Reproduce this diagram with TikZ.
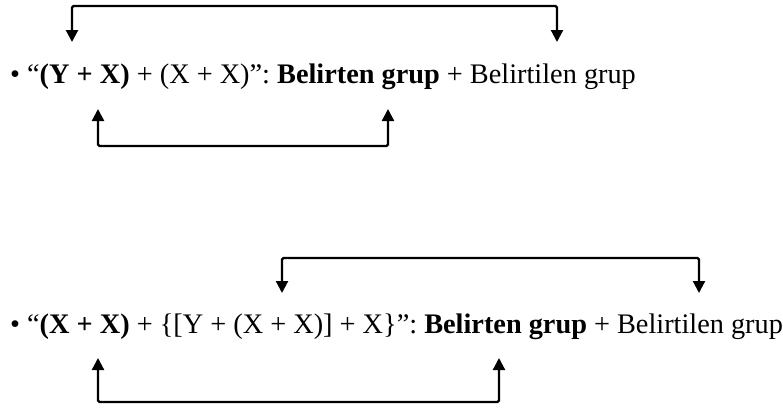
\documentclass[tikz,border=0pt]{standalone}
\usepackage{fontspec}
\setmainfont{Liberation Serif}
\usetikzlibrary{arrows.meta}

\begin{document}
\begin{tikzpicture}[x=1pt, y=-1pt,
        phrase/.style={anchor=base west, inner sep=0pt, font=\fontsize{28.3}{34}\selectfont},
        link/.style={{Triangle[width=12pt,length=12pt]}-{Triangle[width=12pt,length=12pt]}, line width=2.2pt, rounded corners=1.5pt}
    ]
    \useasboundingbox (0,0) rectangle (783,408);

        % Nodes
        \node[phrase] (ex1) at (10,83) {• “\textbf{(Y + X)} + (X + X)”: \textbf{Belirten grup} + Belirtilen grup};
        \node[phrase] (ex2) at (10,333) {• “\textbf{(X + X)} + \{[Y + (X + X)] + X\}”: \textbf{Belirten grup} + Belirtilen grup};

        % Arrow ends
        \coordinate (ex1-top-a) at (72,42);
        \coordinate (ex1-top-b) at (557,42);
        \coordinate (ex1-bot-a) at (98,109);
        \coordinate (ex1-bot-b) at (388,109);
        \coordinate (ex2-top-a) at (282,293);
        \coordinate (ex2-top-b) at (699,293);
        \coordinate (ex2-bot-a) at (98,358);
        \coordinate (ex2-bot-b) at (499,358);

        % Paths
        \draw[link] (ex1-top-a) |- (315,6) -| (ex1-top-b);
        \draw[link] (ex1-bot-a) |- (240,146) -| (ex1-bot-b);
        \draw[link] (ex2-top-a) |- (490,258) -| (ex2-top-b);
        \draw[link] (ex2-bot-a) |- (300,402) -| (ex2-bot-b);

\end{tikzpicture}
\end{document}
